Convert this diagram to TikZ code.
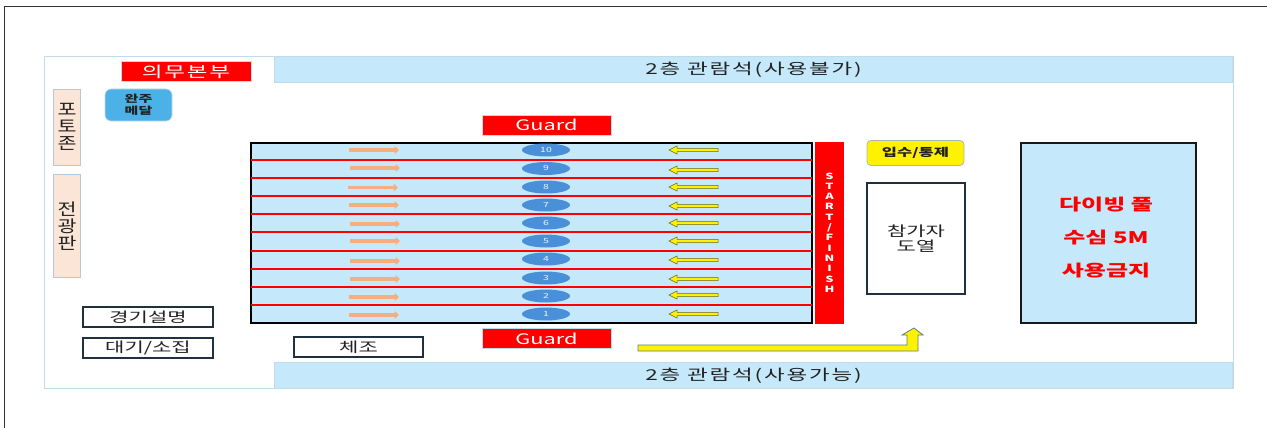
\documentclass[tikz,border=0pt]{standalone}
\usepackage{fontspec}
\setmainfont[FakeStretch=1.5]{Noto Sans CJK KR}
\newfontfamily\uprightcjk[FakeStretch=1.25]{Noto Sans CJK KR}
\newfontfamily\spacedcjk[FakeStretch=1.5,LetterSpace=12]{Noto Sans CJK KR}
\usetikzlibrary{arrows.meta,shapes.geometric}
\definecolor{pale}{HTML}{C5E9FA}
\definecolor{paleedge}{HTML}{BFDCEB}
\definecolor{peach}{HTML}{FBE5D6}
\definecolor{peachedge}{HTML}{B4C7DC}
\definecolor{navy}{HTML}{1F3040}
\definecolor{orangearrow}{HTML}{F4AE80}
\definecolor{lanedisc}{HTML}{4A90D9}
\definecolor{medal}{HTML}{4CB1E6}
\definecolor{darktext}{HTML}{222222}
\tikzset{
  x=1pt,y=-1pt,
  every node/.style={inner sep=0pt,outer sep=0pt,align=center,text=darktext},
  stand/.style={draw=paleedge,fill=pale,line width=.8pt,font=\spacedcjk\fontsize{15}{15}\selectfont},
  redbox/.style={draw=paleedge,fill=red,line width=.8pt,text=white,font=\spacedcjk\fontsize{15}{15}\selectfont},
  sidebox/.style={draw=peachedge,fill=peach,line width=.8pt,font=\uprightcjk\fontsize{16.5}{16.8}\selectfont},
  navybox/.style={draw=navy,fill=white,line width=2pt,font=\fontsize{14}{18}\selectfont},
  lanedot/.style={ellipse,fill=lanedisc,minimum width=48pt,minimum height=13pt,text=white!90!lanedisc,font=\fontsize{7}{7}\selectfont},
  lane/.style={draw=red,line width=1.4pt},
  swimr/.style={-{Triangle[length=4.5pt,width=8pt]},draw=orangearrow,line width=3.8pt},
  swiml/.style={draw=black!35!olive,fill=yellow,line width=.5pt},
}
\begin{document}
\begin{tikzpicture}
\useasboundingbox (0,0) rectangle (1267,428);
\fill[white] (0,0) rectangle (1267,428);
% outer frame
\coordinate (fa) at (4.5,428); \coordinate (fb) at (4.5,6.5); \coordinate (fc) at (1267,6.5);
\draw[line width=1.3pt,black!80] (fa) -- (fb) -- (fc);
% hall
\node[draw=paleedge,fill=white,line width=.8pt,minimum width=1189pt,minimum height=332pt] (hall) at (638.5,222.5) {};
% stands
\node[stand,minimum width=958pt,minimum height=26pt] (up) at (753.5,69.5) {2층 관람석(사용불가)};
\node[stand,minimum width=958pt,minimum height=26pt] (dn) at (753.5,375.5) {2층 관람석(사용가능)};
% top left
\node[redbox,minimum width=130pt,minimum height=20pt] (med) at (186,71.5) {의무본부};
\node[fill=medal,draw=paleedge,rounded corners=6pt,line width=.6pt,minimum width=67pt,minimum height=32pt,font=\fontsize{10}{11.5}\selectfont\bfseries] (medal) at (138.5,105) {완주\\메달};
\node[sidebox,minimum width=27pt,minimum height=76pt] (photo) at (67,127) {포\\토\\존};
\node[sidebox,minimum width=27pt,minimum height=103pt] (board) at (67,226) {전\\광\\판};
% bottom left
\node[navybox,minimum width=130pt,minimum height=20pt] (expl) at (148,317) {경기설명};
\node[navybox,minimum width=130pt,minimum height=20pt] (wait) at (148,347.5) {대기/소집};
\node[navybox,minimum width=129pt,minimum height=20pt] (gym) at (358.5,347) {체조};
% guards
\node[redbox,minimum width=129pt,minimum height=20pt,font=\fontsize{14.5}{15}\selectfont] (g1) at (546.5,125) {Guard};
\node[redbox,minimum width=129pt,minimum height=20pt,font=\fontsize{14.5}{15}\selectfont] (g2) at (546.5,338.5) {Guard};
% pool
\node[draw=black,fill=pale,line width=2pt,minimum width=561pt,minimum height=180pt] (pool) at (531,232.5) {};
\foreach \yy in {160,178,196,214,232,251,269,287,305}{
  \draw[lane] (pool.west |- 0,\yy) -- (pool.east |- 0,\yy);
}
\foreach \n/\yd/\xo/\yo/\yl in {10/150/349/150/150,9/168.5/350/168/170,8/187/348/187.5/187,7/205/349/205/206,6/223/350/224/223,5/241/350/241/241,4/259/350/261/260,3/278/350/279/279,2/296/349/297/295,1/314/349/315/314}{
  \node[lanedot] (d\n) at (546,\yd) {\n};
  \coordinate (ra\n) at (\xo,\yo);
  \coordinate (rb\n) at (\xo+50,\yo);
  \draw[swimr] (ra\n) -- (rb\n);
  \draw[swiml] (718,\yl-1.6) -- (677,\yl-1.6) -- (677,\yl-4) -- (669,\yl) -- (677,\yl+4) -- (677,\yl+1.6) -- (718,\yl+1.6) -- cycle;
}
% start finish
\node[fill=red,minimum width=29pt,minimum height=182pt,text=white,font=\fontsize{8.5}{10.3}\selectfont\bfseries] (sf) at (829.5,232.5) {S\\T\\A\\R\\T\\/\\F\\I\\N\\I\\S\\H};
% right
\node[fill=yellow,draw=paleedge!60!gray,rounded corners=4pt,line width=.8pt,minimum width=97pt,minimum height=25pt,font=\fontsize{11}{11}\selectfont\bfseries] (ctl) at (915.5,153) {입수/통제};
\node[navybox,minimum width=98pt,minimum height=111pt,font=\fontsize{14}{15}\selectfont] (part) at (916,238.5) {참가자\\도열};
\node[draw=black!90,fill=pale,line width=2pt,minimum width=175pt,minimum height=180pt] (dive) at (1108,232.5) {};
\node[text=red,font=\fontsize{16}{33}\selectfont\bfseries] (divetext) at (1106,238) {다이빙 풀\\수심 5M\\사용금지};
% route arrow
\draw[draw=gray!70!teal,fill=yellow,line width=.8pt] (638,345) -- (907,345) -- (907,335) -- (902,335) -- (914,328) -- (923,335) -- (918,335) -- (918,351) -- (638,351) -- cycle;
\end{tikzpicture}
\end{document}
